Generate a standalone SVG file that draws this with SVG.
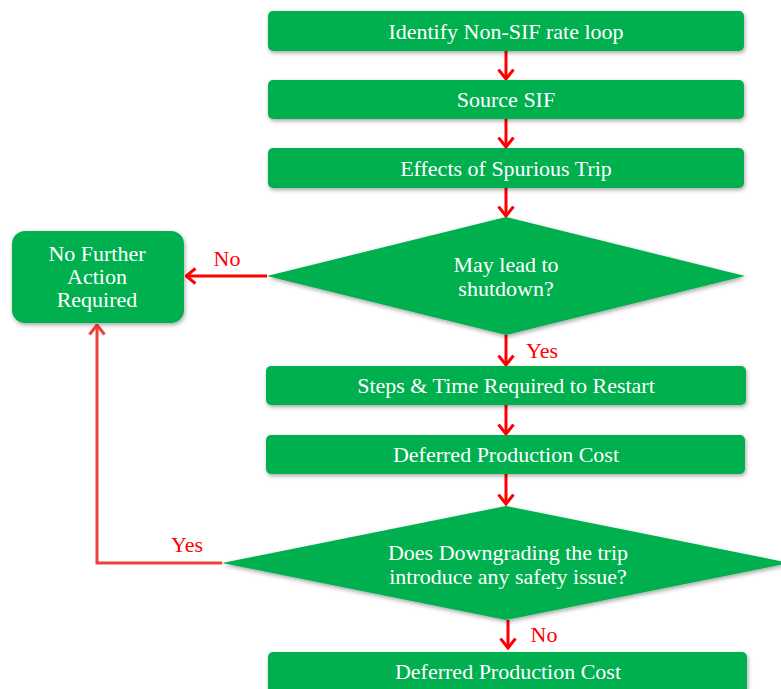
<svg xmlns="http://www.w3.org/2000/svg" width="781" height="689" viewBox="0 0 781 689">
<style>
.n{fill:#00b050;filter:url(#sh)}
.t{font-family:"Liberation Serif","Times New Roman",serif;font-size:22px;fill:#fff;text-anchor:middle}
.l{font-family:"Liberation Serif","Times New Roman",serif;font-size:22px;fill:#ff0000}
.c{stroke:#ff0000;stroke-width:3;fill:none;marker-end:url(#ah)}
.c2{stroke:#f0403a;stroke-width:3;fill:none;marker-end:url(#ah2)}
</style>
<defs>
<filter id="sh" x="-10%" y="-20%" width="120%" height="150%">
<feDropShadow dx="1" dy="2" stdDeviation="2" flood-color="#000" flood-opacity="0.35"/>
</filter>
<marker id="ah" viewBox="0 0 12 18" refX="10.5" refY="9" markerWidth="12" markerHeight="18" markerUnits="userSpaceOnUse" orient="auto">
<path d="M1,1.5 L10.5,9 L1,16.5" stroke="#ff0000" stroke-width="3" fill="none"/>
</marker>
<marker id="ah2" viewBox="0 0 12 18" refX="10.5" refY="9" markerWidth="12" markerHeight="18" markerUnits="userSpaceOnUse" orient="auto">
<path d="M1,1.5 L10.5,9 L1,16.5" stroke="#f0403a" stroke-width="3" fill="none"/>
</marker>
</defs>
<rect width="781" height="689" fill="#fff"/>
<g id="connectors">
<path class="c" d="M506,51 V79"/>
<path class="c" d="M506,119 V147"/>
<path class="c" d="M506,188 V216"/>
<path class="c" d="M267,276 H186"/>
<path class="c" d="M506,335 V365"/>
<path class="c" d="M506,405 V434"/>
<path class="c" d="M506,474 V504"/>
<path class="c" d="M508,620 V648"/>
<path class="c2" d="M222,563 H97 V325"/>
<text class="l" x="227" y="266" text-anchor="middle">No</text>
<text class="l" x="542" y="358" text-anchor="middle">Yes</text>
<text class="l" x="187" y="552" text-anchor="middle">Yes</text>
<text class="l" x="544" y="642" text-anchor="middle">No</text>
</g>
<g id="n1"><rect class="n" x="268" y="11" width="476" height="40" rx="5"/><text class="t" x="506" y="39">Identify Non-SIF rate loop</text></g>
<g id="n2"><rect class="n" x="268" y="80" width="476" height="39" rx="5"/><text class="t" x="506" y="107">Source SIF</text></g>
<g id="n3"><rect class="n" x="268" y="148" width="476" height="40" rx="5"/><text class="t" x="506" y="176">Effects of Spurious Trip</text></g>
<g id="d1"><polygon class="n" points="506,217 745,276 506,335 267,276"/><text class="t" x="506" y="272">May lead to</text><text class="t" x="506" y="296">shutdown?</text></g>
<g id="n4"><rect class="n" x="12" y="231" width="172" height="92" rx="13"/><text class="t" x="97" y="261">No Further</text><text class="t" x="97" y="284">Action</text><text class="t" x="97" y="307">Required</text></g>
<g id="n5"><rect class="n" x="266" y="366" width="480" height="39" rx="5"/><text class="t" x="506" y="393">Steps &amp; Time Required to Restart</text></g>
<g id="n6"><rect class="n" x="266" y="435" width="479" height="39" rx="5"/><text class="t" x="506" y="462">Deferred Production Cost</text></g>
<g id="d2"><polygon class="n" points="506,506 790,563 506,620 222,563"/><text class="t" x="508" y="560">Does Downgrading the trip</text><text class="t" x="508" y="584">introduce any safety issue?</text></g>
<g id="n7"><rect class="n" x="268" y="652" width="479" height="42" rx="5"/><text class="t" x="508" y="679">Deferred Production Cost</text></g>
</svg>
